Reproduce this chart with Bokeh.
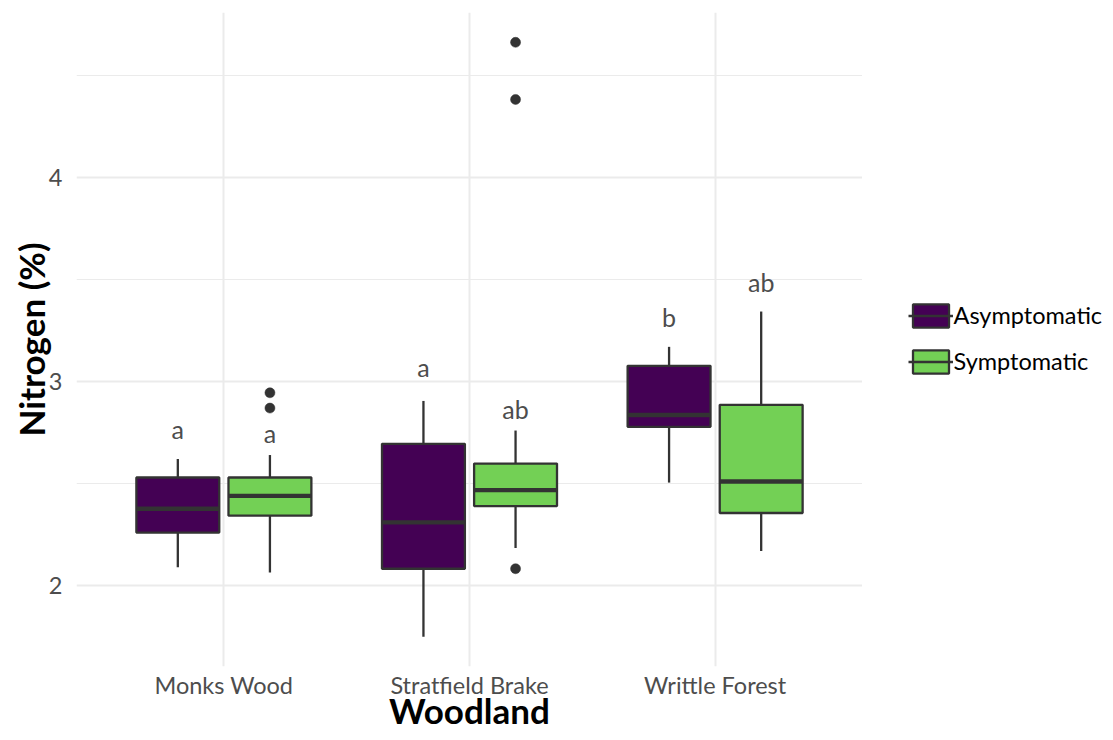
from bokeh.plotting import figure
from bokeh.layouts import row
from bokeh.models import (FactorRange, Range1d, Legend, LegendItem, ColumnDataSource,
                          FixedTicker)
from bokeh.transform import dodge
from bokeh.core.properties import value
from bokeh.embed import file_html
from bokeh.resources import INLINE

# ---------------- data ----------------
woodlands = ["Monks Wood", "Stratfield Brake", "Writtle Forest"]
groups = ["Asymptomatic", "Symptomatic"]

asym_lower = [2.09, 1.75, 2.505]
asym_q1 = [2.26, 2.083, 2.778]
asym_median = [2.377, 2.31, 2.836]
asym_q3 = [2.53, 2.695, 3.077]
asym_upper = [2.62, 2.905, 3.17]

sym_lower = [2.065, 2.185, 2.17]
sym_q1 = [2.343, 2.39, 2.356]
sym_median = [2.44, 2.468, 2.51]
sym_q3 = [2.53, 2.598, 2.886]
sym_upper = [2.64, 2.76, 3.343]

outlier_woodland = ["Monks Wood", "Monks Wood", "Stratfield Brake", "Stratfield Brake", "Stratfield Brake"]
outlier_value = [2.945, 2.87, 4.662, 4.382, 2.083]

asym_letters = ["a", "a", "b"]
asym_letter_y = [2.713, 3.018, 3.261]
sym_letters = ["a", "ab", "ab"]
sym_letter_y = [2.695, 2.814, 3.433]

y_ticks = [2, 3, 4]
y_minor = [2.5, 3.5, 4.5]

colors = {"Asymptomatic": "#440154", "Symptomatic": "#73D055"}
edge = "#333333"
FONT = "Lato"

# ---------------- main panel ----------------
x_range = FactorRange(*woodlands, range_padding=0.1, range_padding_units="absolute")
y_range = Range1d(1.604, 4.808)

p = figure(width=862, height=740, x_range=x_range, y_range=y_range,
           output_backend="svg", toolbar_location=None,
           min_border_left=76, min_border_right=0, min_border_top=12, min_border_bottom=74)

p.background_fill_color = "white"
p.border_fill_color = "white"
p.outline_line_color = None

p.xgrid.grid_line_color = "#EBEBEB"
p.xgrid.grid_line_width = 2
p.ygrid.grid_line_color = "#EBEBEB"
p.ygrid.grid_line_width = 2
p.ygrid.minor_grid_line_color = "#EBEBEB"
p.ygrid.minor_grid_line_width = 1.2
p.yaxis.ticker = FixedTicker(ticks=y_ticks, minor_ticks=y_minor)

for ax in (p.xaxis[0], p.yaxis[0]):
    ax.axis_line_color = None
    ax.major_tick_line_color = None
    ax.minor_tick_line_color = None
    ax.major_tick_out = 0
    ax.minor_tick_out = 0
    ax.major_label_text_font = FONT
    ax.major_label_text_font_size = "23.5px"
    ax.major_label_text_color = "#4D4D4D"
    ax.axis_label_text_font = FONT
    ax.axis_label_text_font_style = "bold"
    ax.axis_label_text_font_size = "35px"
    ax.axis_label_text_color = "black"

p.xaxis.axis_label = "Woodland"
p.yaxis.axis_label = "Nitrogen (%)"
p.xaxis.major_label_standoff = 4
p.xaxis.axis_label_standoff = -13
p.yaxis.major_label_standoff = 14
p.yaxis.axis_label_standoff = -6

HALF_W = 0.3375 / 2
OFFSET = 0.1875

for grp, off, lo, q1, med, q3, up in [
    ("Asymptomatic", -OFFSET, asym_lower, asym_q1, asym_median, asym_q3, asym_upper),
    ("Symptomatic", OFFSET, sym_lower, sym_q1, sym_median, sym_q3, sym_upper),
]:
    src = ColumnDataSource(dict(woodland=woodlands, lower=lo, q1=q1, median=med, q3=q3, upper=up))
    xc = dodge("woodland", off, range=x_range)
    p.segment(x0=xc, x1=xc, y0="q3", y1="upper", source=src, line_color=edge, line_width=2.3)
    p.segment(x0=xc, x1=xc, y0="lower", y1="q1", source=src, line_color=edge, line_width=2.3)
    p.vbar(x=xc, width=2 * HALF_W, bottom="q1", top="q3", source=src,
           fill_color=colors[grp], line_color=edge, line_width=2.3)
    p.segment(x0=dodge("woodland", off - HALF_W, range=x_range),
              x1=dodge("woodland", off + HALF_W, range=x_range),
              y0="median", y1="median", source=src, line_color=edge, line_width=4.4)

out_src = ColumnDataSource(dict(woodland=outlier_woodland, value=outlier_value))
p.scatter(x=dodge("woodland", OFFSET, range=x_range), y="value", source=out_src,
          size=10, fill_color=edge, line_color=edge, line_width=0.5)

a_src = ColumnDataSource(dict(woodland=woodlands, y=asym_letter_y, t=asym_letters))
s_src = ColumnDataSource(dict(woodland=woodlands, y=sym_letter_y, t=sym_letters))
for src, off in ((a_src, -OFFSET), (s_src, OFFSET)):
    p.text(x=dodge("woodland", off, range=x_range), y="y", text="t", source=src,
           text_font=value(FONT), text_font_size="25px", text_color="#4D4D4D",
           text_align="center", text_baseline="alphabetic", y_offset=-11)

# ---------------- legend panel ----------------
lg = figure(width=251, height=740, x_range=Range1d(0, 1), y_range=Range1d(0, 1),
            output_backend="svg", toolbar_location=None,
            x_axis_location=None, y_axis_location=None,
            min_border_left=0, min_border_right=0, min_border_top=0, min_border_bottom=0)
lg.grid.visible = False
lg.outline_line_color = None
lg.background_fill_color = "white"
lg.border_fill_color = "white"

nan = float("nan")
items = []
for grp in groups:
    # key glyphs only (no visible data in this panel)
    key_src = ColumnDataSource(dict(x=[nan], y0=[nan], y1=[nan]))
    b = lg.vbar(x="x", width=0.1, bottom="y0", top="y1", source=key_src,
                fill_color=colors[grp], line_color=edge, line_width=2.3)
    m = lg.segment(x0="x", x1="x", y0="y0", y1="y1", source=key_src,
                   line_color=edge, line_width=2.6)
    items.append(LegendItem(label=grp, renderers=[b, m]))

legend = Legend(items=items, location=(45.5, 290.5))
legend.border_line_color = None
legend.background_fill_alpha = 0
legend.padding = 0
legend.margin = 0
legend.spacing = 17
legend.glyph_width = 45
legend.glyph_height = 29
legend.label_standoff = 1
legend.label_text_font = FONT
legend.label_text_font_size = "23.5px"
legend.label_text_color = "black"
lg.add_layout(legend)

layout = row(p, lg, spacing=0)
open("out.html", "w").write(file_html(layout, INLINE))
